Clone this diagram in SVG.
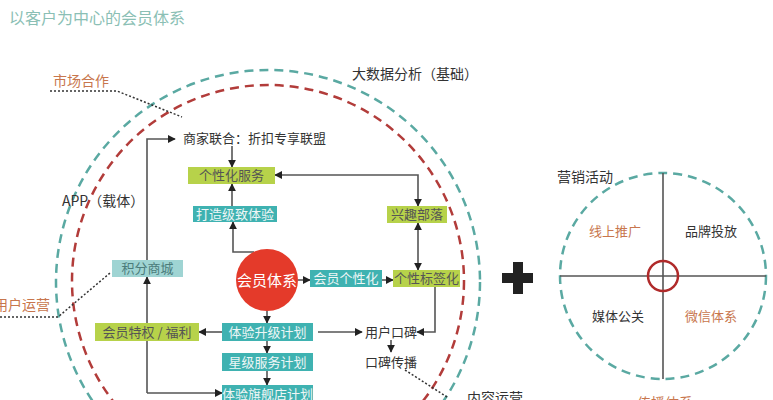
<svg xmlns="http://www.w3.org/2000/svg" width="773" height="400" viewBox="0 0 773 400">
<defs>
<style>
text{font-family:"Noto Sans CJK SC","Noto Sans",sans-serif;}
.bg{fill:#ffffff;}
.teal-ring{fill:none;stroke:#5aa9a2;stroke-width:2.5;stroke-dasharray:9 6;}
.red-ring{fill:none;stroke:#b23c3a;stroke-width:2.5;stroke-dasharray:9 6;}
.green{fill:#b7d24a;}
.teal{fill:#3fb2b1;}
.lteal{fill:#9fd4d3;}
.tg{font-size:13px;fill:#555;text-anchor:middle;}
.tt{font-size:13px;fill:#eef6f6;text-anchor:middle;}
.tl{font-size:13px;fill:#4b7c7b;text-anchor:middle;}
.plain{font-size:13px;fill:#333;}
.lbl{font-size:14px;fill:#333;}
.org{fill:#c8764d;}
.conn{fill:none;stroke:#555;stroke-width:1.6;}
.dot{fill:none;stroke:#333;stroke-width:1.5;stroke-dasharray:2 2;}
.axis{fill:none;stroke:#555;stroke-width:1.6;}
</style>
<marker id="ah" viewBox="0 0 10 10" refX="9" refY="5" markerWidth="8" markerHeight="8" markerUnits="userSpaceOnUse" orient="auto-start-reverse">
<path d="M0,0 L10,5 L0,10 z" fill="#222"/>
</marker>
</defs>
<rect class="bg" x="0" y="0" width="773" height="400"/>

<text x="9" y="24" style="font-size:16px;fill:#8bbfb5">以客户为中心的会员体系</text>

<g id="rings">
<circle class="teal-ring" cx="268" cy="282" r="212"/>
<circle class="red-ring" cx="268" cy="281" r="196"/>
</g>

<g id="labels">
<text class="lbl org" x="53" y="86">市场合作</text>
<text class="lbl" x="352" y="79">大数据分析（基础）</text>
<text class="lbl" x="62" y="206">APP（载体）</text>
<text class="lbl org" x="50" y="310" text-anchor="end">用户运营</text>
<text class="lbl" x="467" y="403">内容运营</text>
</g>

<g id="connectors">
<path class="conn" d="M147,260 V139 H175" marker-end="url(#ah)"/>
<path class="conn" d="M232,146 V167" marker-end="url(#ah)"/>
<path class="conn" d="M232,206 V184" marker-end="url(#ah)"/>
<path class="conn" d="M254,252 H233 V222" marker-end="url(#ah)"/>
<path class="conn" d="M275,175 H418 V206" marker-start="url(#ah)" marker-end="url(#ah)"/>
<path class="conn" d="M418,223 V270" marker-start="url(#ah)" marker-end="url(#ah)"/>
<path class="conn" d="M298,280 H310" marker-end="url(#ah)"/>
<path class="conn" d="M382,280 H393" marker-end="url(#ah)"/>
<path class="conn" d="M435,287 V332 H417" marker-end="url(#ah)"/>
<path class="conn" d="M267,311 V323" marker-end="url(#ah)"/>
<path class="conn" d="M222,332 H199" marker-end="url(#ah)"/>
<path class="conn" d="M318,332 H362" marker-end="url(#ah)"/>
<path class="conn" d="M391,340 V352" marker-end="url(#ah)"/>
<path class="conn" d="M267,341 V353" marker-end="url(#ah)"/>
<path class="conn" d="M267,371 V385" marker-end="url(#ah)"/>
<path class="conn" d="M147,393 V277" marker-end="url(#ah)"/>
<path class="conn" d="M147,393 H222" marker-end="url(#ah)"/>
<path class="dot" d="M50,91 H117 L182,117"/>
<path class="dot" d="M0,317 H58 L110,273"/>
<path class="dot" d="M405,370 L447,397"/>
</g>

<g id="n-shangjia"><text class="plain" x="183" y="143">商家联合：折扣专享联盟</text></g>
<g id="n-gexinghuafuwu"><rect class="green" x="188" y="167" width="87" height="17"/><text class="tg" x="231.5" y="180">个性化服务</text></g>
<g id="n-dazao"><rect class="teal" x="193" y="206" width="84" height="16"/><text class="tt" x="235" y="218.5">打造级致体验</text></g>
<g id="n-xingqu"><rect class="green" x="387" y="206" width="60" height="17"/><text class="tg" x="417" y="219">兴趣部落</text></g>
<g id="n-huiyuantixi"><circle cx="267" cy="280" r="31" fill="#e43a2a"/><text x="267" y="285.5" style="font-size:15px;fill:#fff;text-anchor:middle">会员体系</text></g>
<g id="n-huiyuangexing"><rect class="teal" x="310" y="270" width="72" height="17"/><text class="tt" x="346" y="283">会员个性化</text></g>
<g id="n-biaoqian"><rect class="green" x="393" y="270" width="67" height="17"/><text class="tg" x="426.5" y="283">个性标签化</text></g>
<g id="n-jifen"><rect class="lteal" x="112" y="260" width="71" height="17"/><text class="tl" x="147.5" y="273">积分商城</text></g>
<g id="n-tequan"><rect class="green" x="95" y="323" width="104" height="18"/><text class="tg" x="147" y="336.5">会员特权 / 福利</text></g>
<g id="n-shengji"><rect class="teal" x="222" y="323" width="91" height="18"/><text class="tt" x="267.5" y="336.5">体验升级计划</text></g>
<g id="n-xingji"><rect class="teal" x="222" y="353" width="91" height="18"/><text class="tt" x="267.5" y="366.5">星级服务计划</text></g>
<g id="n-qijian"><rect class="teal" x="222" y="385" width="91" height="18"/><text class="tt" x="267.5" y="398.5">体验旗舰店计划</text></g>
<g id="n-koubei"><text class="plain" x="391" y="337" text-anchor="middle">用户口碑</text></g>
<g id="n-chuanbo"><text class="plain" x="391" y="367" text-anchor="middle">口碑传播</text></g>

<g id="plus">
<rect x="502" y="273" width="31" height="10" fill="#222"/>
<rect x="513" y="262" width="10" height="32" fill="#222"/>
</g>

<g id="marketing">
<circle class="teal-ring" cx="663" cy="276" r="103"/>
<path class="axis" d="M663,173 V379 M560,276 H766"/>
<circle cx="663" cy="276" r="15" fill="none" stroke="#b02a2a" stroke-width="2.5"/>
<text class="lbl" x="557" y="182">营销活动</text>
<text class="plain org" x="615" y="236" text-anchor="middle">线上推广</text>
<text class="plain" x="711" y="236" text-anchor="middle">品牌投放</text>
<text class="plain" x="618" y="321" text-anchor="middle">媒体公关</text>
<text class="plain org" x="711" y="321" text-anchor="middle">微信体系</text>
<text class="lbl org" x="665" y="408" text-anchor="middle">传播体系</text>
</g>
</svg>
